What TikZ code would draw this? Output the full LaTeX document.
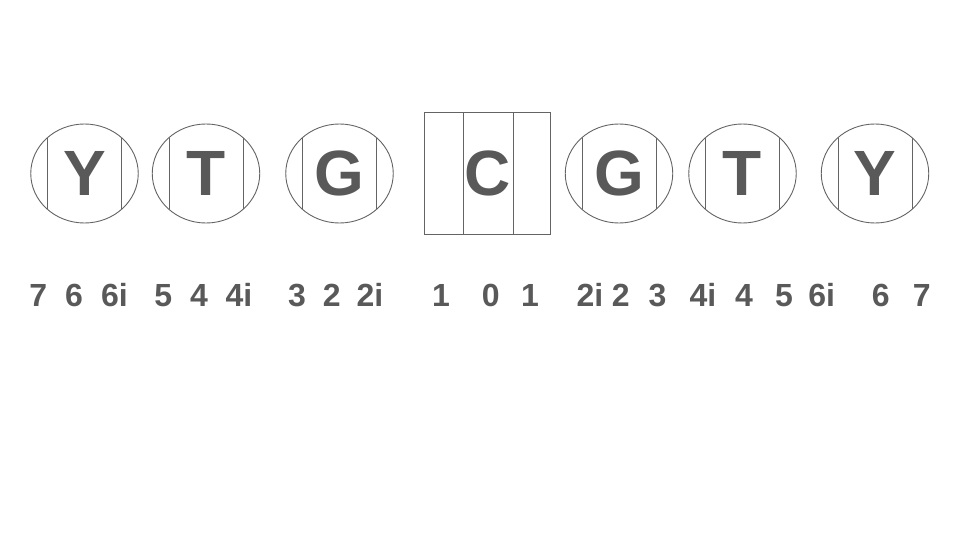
\documentclass[tikz,border=0pt]{standalone}
\usepackage{fontspec}
\setmainfont{Liberation Sans}
\usetikzlibrary{positioning,shapes.geometric}
\definecolor{basegray}{RGB}{89,89,89}
\definecolor{linegray}{RGB}{100,100,100}
\tikzset{
  base/.style={draw=linegray, line width=0.9pt, inner sep=0pt, outer sep=0pt, text=basegray, font=\fontsize{64}{64}\selectfont\bfseries},
  base ellipse/.style={base, ellipse, minimum width=107.5pt, minimum height=99pt},
  base box/.style={base, rectangle, minimum width=126pt, minimum height=122pt},
  divider/.style={draw=linegray, line width=0.9pt},
  num/.style={text=basegray, inner sep=0pt, anchor=base, font=\fontsize{32}{32}\selectfont\bfseries},
}

\begin{document}
\begin{tikzpicture}[x=1pt,y=-1pt]
\useasboundingbox[fill=white] (0,0) rectangle (960,540);
% the bases
\node [base ellipse] (yL) at (84.5,173.5) {Y};
\node [base ellipse,right=14pt of yL] (tL) {T};
\node [base ellipse,right=26pt of tL] (gL) {G};
\node [base box,right=31pt of gL] (c) {C};
\node [base ellipse,right=15pt of c] (gR) {G};
\node [base ellipse,right=16pt of gR] (tR) {T};
\node [base ellipse,right=25pt of tR] (yR) {Y};
%dividing lines
\foreach \b in {yL,tL,gL,gR,tR,yR}{
  \draw[divider] ([shift={(-37,-35.9)}]\b.center) -- ([shift={(-37,35.9)}]\b.center);
  \draw[divider] ([shift={(37,-35.9)}]\b.center) -- ([shift={(37,35.9)}]\b.center);
}
\draw[divider] ([xshift=-24pt]c.north) -- ([xshift=-24pt]c.south);
\draw[divider] ([xshift=26pt]c.north) -- ([xshift=26pt]c.south);
% the position numbers
\foreach \x/\t [count=\i] in {38.3/7,74/6,114.5/6i,163.3/5,199/4,239/4i,297/3,331.7/2,370/2i,441/1,
  490.8/0,530/1,590/2i,620.8/2,657.5/3,703/4i,744/4,784/5,821.7/6i,880.8/6,921.7/7}
  \node [num] (pos\i) at (\x,306) {\t};
\end{tikzpicture}
\end{document}
